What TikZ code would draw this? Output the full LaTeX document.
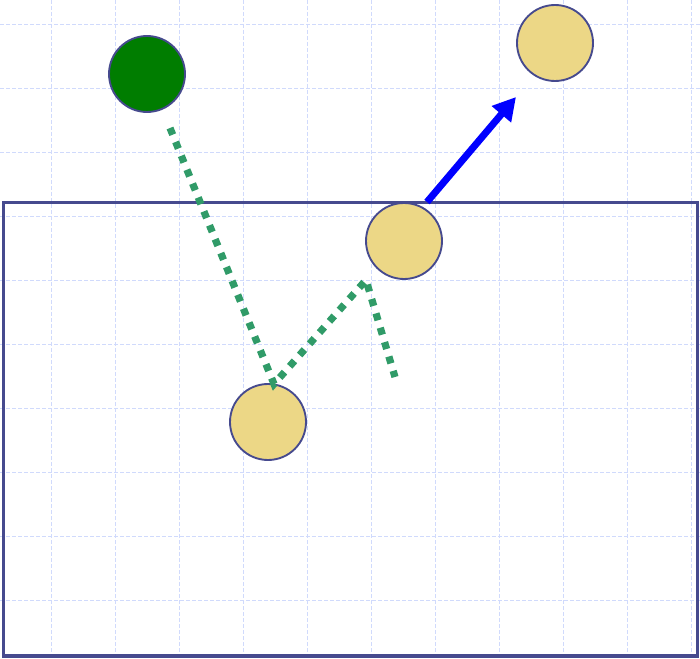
\documentclass[tikz,border=0pt]{standalone}
\usetikzlibrary{arrows.meta}
\definecolor{gridblue}{RGB}{208,218,252}
\definecolor{framenavy}{RGB}{70,74,142}
\definecolor{balltan}{RGB}{236,215,134}
\definecolor{ballgreen}{RGB}{0,125,0}
\definecolor{trailgreen}{RGB}{48,155,104}
\begin{document}
\begin{tikzpicture}[x=0.75pt,y=-0.75pt,
		ball/.style={circle,draw=framenavy,line width=1.4pt,fill=balltan,minimum size=57pt,inner sep=0pt},
		trail/.style={trailgreen,line width=5.4pt,dash pattern=on 5.4pt off 5.85pt},
		push/.style={blue,line width=5.25pt,-{Triangle[length=17pt,width=18pt]}}]
			\useasboundingbox (0,0) rectangle (700,659);
			\def\ncol{10}
			\def\nrow{9}
			% grid
			\foreach \x in {0,...,\ncol} {
				\draw[gridblue,line width=1.1pt,dash pattern=on 3pt off 1.5pt] (51.7+64*\x,0) -- (51.7+64*\x,659);
			}
			\foreach \y in {0,...,\nrow} {
				\draw[gridblue,line width=1.1pt,dash pattern=on 3pt off 1.5pt] (0,24.5+64*\y) -- (700,24.5+64*\y);
			}
			% frame
			\draw[framenavy,line width=2.4pt] (3.7,202.5) rectangle (697.5,656);
			% balls
			\node[ball,fill=ballgreen] (start) at (147,74) {};
			\node[ball] (target) at (555,43) {};
			\node[ball] (hit) at (404,241) {};
			\node[ball] (low) at (268,422) {};
			% trail
			\coordinate (trailA) at (170,128);
			\coordinate (trailB) at (274,384);
			\coordinate (trailC) at (366,280);
			\coordinate (trailD) at (395,377);
			\draw[trail] (trailA) -- (trailB) -- (trailC) -- (trailD);
			% push
			\coordinate (pushA) at (427,202);
			\coordinate (pushB) at (516,97);
			\draw[push] (pushA) -- (pushB);
		\end{tikzpicture}
\end{document}
